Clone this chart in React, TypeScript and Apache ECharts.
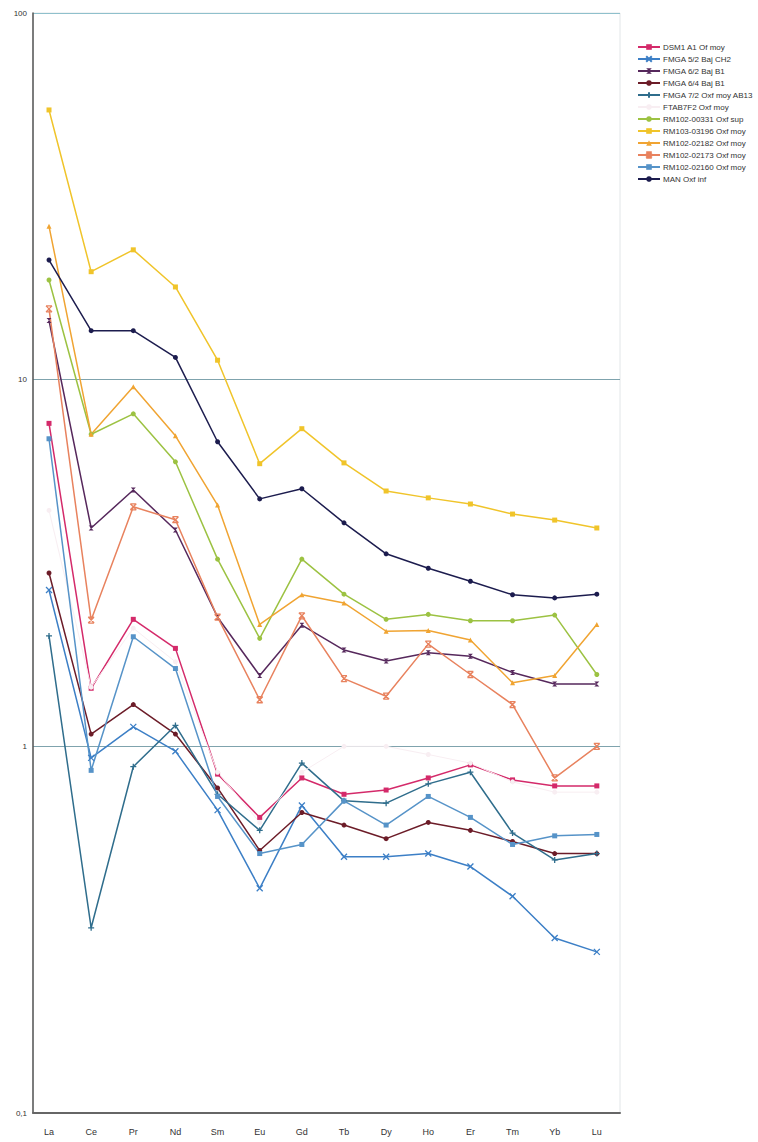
import React, { useEffect, useRef } from "react";
import * as echarts from "echarts";

const categories = ["La", "Ce", "Pr", "Nd", "Sm", "Eu", "Gd", "Tb", "Dy", "Ho", "Er", "Tm", "Yb", "Lu"];
const yTickLabels: Record<string, string> = { "0.1": "0,1", "1": "1", "10": "10", "100": "100" };

const dsm1 = [7.6, 1.44, 2.22, 1.85, 0.84, 0.64, 0.82, 0.74, 0.76, 0.82, 0.89, 0.81, 0.78, 0.78];
const fmga52 = [2.67, 0.93, 1.13, 0.97, 0.67, 0.41, 0.69, 0.5, 0.5, 0.51, 0.47, 0.39, 0.3, 0.275];
const fmga62 = [14.5, 3.94, 5.0, 3.89, 2.25, 1.56, 2.14, 1.83, 1.71, 1.8, 1.76, 1.59, 1.48, 1.48];
const fmga64 = [2.97, 1.08, 1.3, 1.08, 0.77, 0.52, 0.66, 0.61, 0.56, 0.62, 0.59, 0.55, 0.51, 0.51];
const fmga72 = [2.0, 0.32, 0.88, 1.14, 0.74, 0.59, 0.9, 0.71, 0.7, 0.79, 0.85, 0.58, 0.49, 0.51];
const ftab7f2 = [4.4, 1.45, 2.1, 1.7, 0.85, 0.62, 0.85, 1.0, 1.0, 0.95, 0.9, 0.8, 0.75, 0.75];
const rm00331 = [18.7, 7.1, 8.07, 5.97, 3.24, 1.97, 3.24, 2.6, 2.22, 2.29, 2.2, 2.2, 2.28, 1.57];
const rm03196 = [54.4, 19.7, 22.6, 17.9, 11.3, 5.9, 7.35, 5.93, 4.97, 4.76, 4.58, 4.3, 4.14, 3.94];
const rm02182 = [26.2, 7.1, 9.57, 7.03, 4.55, 2.15, 2.59, 2.46, 2.06, 2.07, 1.95, 1.49, 1.56, 2.15];
const rm02173 = [15.6, 2.21, 4.5, 4.15, 2.25, 1.34, 2.27, 1.53, 1.37, 1.9, 1.57, 1.3, 0.82, 1.0];
const rm02160 = [6.9, 0.86, 1.99, 1.63, 0.73, 0.51, 0.54, 0.71, 0.61, 0.73, 0.64, 0.54, 0.57, 0.575];
const man = [21.2, 13.6, 13.6, 11.5, 6.77, 4.73, 5.04, 4.07, 3.35, 3.06, 2.82, 2.59, 2.54, 2.6];

const X_SYM = "path://M0,0L10,10M10,0L0,10";
const PLUS_SYM = "path://M5,0L5,10M0,5L10,5";
const HOURGLASS_SYM = "path://M0,0L10,0L0,10L10,10Z";
const STAR_SYM = "path://M0,0L10,10M10,0L0,10M0,0L10,0M0,10L10,10";

const seriesDefs = [
  { name: "DSM1 A1 Of moy", data: dsm1, color: "#d42a6a", symbol: "rect", stroke: false, width: 1.5 },
  { name: "FMGA 5/2 Baj CH2", data: fmga52, color: "#3c7fc6", symbol: X_SYM, stroke: true, width: 1.5 },
  { name: "FMGA 6/2 Baj B1", data: fmga62, color: "#56285c", symbol: HOURGLASS_SYM, stroke: false, width: 1.5 },
  { name: "FMGA 6/4 Baj B1", data: fmga64, color: "#6c1c28", symbol: "circle", stroke: false, width: 1.5 },
  { name: "FMGA 7/2 Oxf moy AB13", data: fmga72, color: "#2f6d8c", symbol: PLUS_SYM, stroke: true, width: 1.5 },
  { name: "FTAB7F2 Oxf moy", data: ftab7f2, color: "#f8eef2", symbol: "circle", stroke: false, width: 1 },
  { name: "RM102-00331 Oxf sup", data: rm00331, color: "#9cc242", symbol: "circle", stroke: false, width: 1.5 },
  { name: "RM103-03196 Oxf moy", data: rm03196, color: "#f0c42a", symbol: "rect", stroke: false, width: 1.5 },
  { name: "RM102-02182 Oxf moy", data: rm02182, color: "#f0a432", symbol: "triangle", stroke: false, width: 1.5 },
  { name: "RM102-02173 Oxf moy", data: rm02173, color: "#e8825e", symbol: STAR_SYM, stroke: true, width: 1.5 },
  { name: "RM102-02160 Oxf moy", data: rm02160, color: "#5693c8", symbol: "rect", stroke: false, width: 1.5 },
  { name: "MAN Oxf inf", data: man, color: "#1c1c4e", symbol: "circle", stroke: false, width: 1.5 },
];

export default function App() {
  const ref = useRef<HTMLDivElement>(null);
  useEffect(() => {
    document.body.style.margin = "0";
    if (!ref.current) return;
    const chart = echarts.init(ref.current, undefined, { renderer: "svg" });
    const font = "'Liberation Sans', Arial, sans-serif";
    chart.setOption({
      animation: false,
      backgroundColor: "#ffffff",
      textStyle: { fontFamily: font },
      grid: {
        left: 33,
        right: 138,
        top: 13,
        bottom: 29,
        show: true,
        borderColor: "#e2e6e8",
        borderWidth: 1,
      },
      legend: {
        orient: "vertical",
        left: 632,
        top: 38,
        itemWidth: 22,
        itemHeight: 7,
        itemGap: 4,
        textStyle: { fontSize: 8, color: "#333", fontFamily: font, padding: [0, 0, 0, -2] },
        data: seriesDefs.map((s) => s.name),
      },
      xAxis: {
        type: "value",
        min: -0.38,
        max: 13.55,
        axisLine: { show: true, onZero: false, lineStyle: { color: "#666", width: 2 } },
        axisTick: { show: false },
        splitLine: { show: false },
        axisLabel: {
          customValues: categories.map((_, i) => i),
          formatter: (v: number) => categories[Math.round(v)] ?? "",
          fontSize: 9,
          color: "#333",
          margin: 14,
          fontFamily: font,
        },
      },
      yAxis: {
        type: "log",
        logBase: 10,
        min: 0.1,
        max: 100,
        axisLine: { show: true, onZero: false, lineStyle: { color: "#555", width: 1.5 } },
        axisTick: { show: false },
        axisLabel: {
          formatter: (v: number) => yTickLabels[String(v)] ?? String(v),
          fontSize: 8,
          color: "#333",
          margin: 6,
          fontFamily: font,
        },
        splitLine: {
          show: true,
          lineStyle: { color: ["transparent", "#7fa3ad", "#7fa3ad", "#8fc0cc"], width: 1.2 },
        },
      },
      series: seriesDefs.map((s) => ({
        name: s.name,
        type: "line",
        data: s.data.map((v, i) => [i, v]),
        symbol: s.symbol,
        symbolSize: s.stroke ? 6 : 5,
        showSymbol: true,
        lineStyle: { color: s.color, width: s.width },
        itemStyle: s.stroke
          ? { color: s.color, borderColor: s.color, borderWidth: 1.3 }
          : { color: s.color, borderColor: s.color, borderWidth: 0 },
        emphasis: { disabled: true },
      })),
    });
    return () => chart.dispose();
  }, []);
  return <div ref={ref} style={{ width: 758, height: 1142 }} />;
}
